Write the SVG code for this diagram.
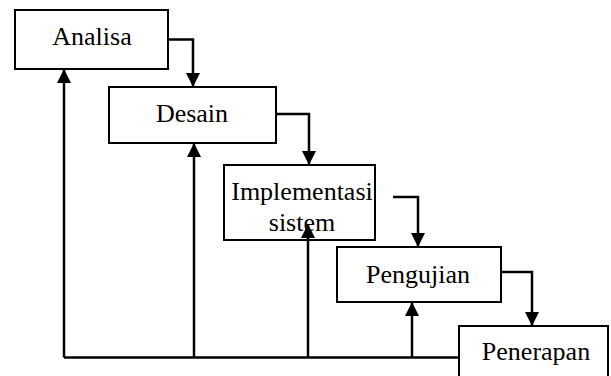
<svg xmlns="http://www.w3.org/2000/svg" width="611" height="376" viewBox="0 0 611 376">
<style>
.box{fill:#fff;stroke:#000;stroke-width:2}
.lbl{font-family:"Liberation Serif","Times New Roman",serif;font-size:26px;fill:#000;text-anchor:middle}
.c{fill:none;stroke:#000;stroke-width:2.5}
</style>
<defs>
<marker id="ah" viewBox="0 0 14 14" refX="14" refY="7" markerWidth="14" markerHeight="14" markerUnits="userSpaceOnUse" orient="auto">
<path d="M0,0 L14,7 L0,14 Z" fill="#000"/>
</marker>
</defs>
<rect width="611" height="376" fill="#fff"/>
<g id="analisa"><rect class="box" x="15" y="10" width="153" height="59"/><text class="lbl" x="92" y="45">Analisa</text></g>
<g id="desain"><rect class="box" x="109" y="87" width="167" height="56"/><text class="lbl" x="192" y="122">Desain</text></g>
<g id="implementasi"><rect class="box" x="224" y="165" width="151" height="75"/><text class="lbl" x="302" y="200">Implementasi</text><text class="lbl" x="302" y="231">sistem</text></g>
<g id="pengujian"><rect class="box" x="337" y="247" width="164" height="55"/><text class="lbl" x="418" y="283">Pengujian</text></g>
<g id="penerapan"><rect class="box" x="459" y="326" width="149" height="55"/><text class="lbl" x="536" y="360">Penerapan</text></g>
<g id="connectors">
<path class="c" d="M168,39.5 H193 V87" marker-end="url(#ah)"/>
<path class="c" d="M276,114 H309 V165" marker-end="url(#ah)"/>
<path class="c" d="M393,197 H418 V247" marker-end="url(#ah)"/>
<path class="c" d="M501,272 H532 V326" marker-end="url(#ah)"/>
<path class="c" d="M459,357.5 H64"/>
<path class="c" d="M64,357.5 V69" marker-end="url(#ah)"/>
<path class="c" d="M194,357.5 V143" marker-end="url(#ah)"/>
<path class="c" d="M308,357.5 V224" marker-end="url(#ah)"/>
<path class="c" d="M412,357.5 V302" marker-end="url(#ah)"/>
</g>
</svg>
